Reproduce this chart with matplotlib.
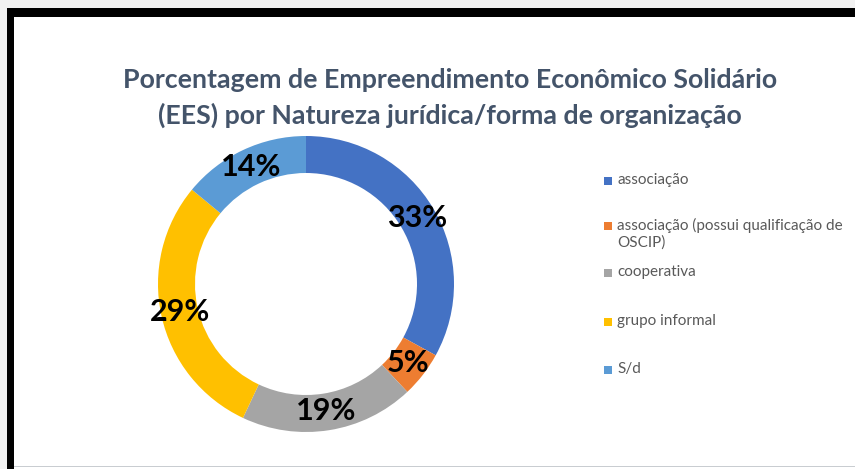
import matplotlib.pyplot as plt
from matplotlib.patches import Rectangle

# data
categories = ['associação', 'associação (possui qualificação de\nOSCIP)',
              'cooperativa', 'grupo informal', 'S/d']
values = [33, 5, 19, 29, 14]
colors = ['#4472C4', '#ED7D31', '#A5A5A5', '#FFC000', '#5B9BD5']

W, H = 855, 469
fig = plt.figure(figsize=(W / 100, H / 100), dpi=100, facecolor='#f1f1f1')

# white chart area with black frame (screenshot look)
fig.patches.append(Rectangle((14 / W, 0), 1, 1 - 17 / H, transform=fig.transFigure,
                             facecolor='white', edgecolor='none', zorder=0))
fig.patches.append(Rectangle((7 / W, 1 - 17 / H), 1, 9 / H, transform=fig.transFigure,
                             facecolor='black', edgecolor='none', zorder=1))
fig.patches.append(Rectangle((7 / W, 0), 7 / W, 1 - 8 / H, transform=fig.transFigure,
                             facecolor='black', edgecolor='none', zorder=1))
fig.patches.append(Rectangle((14 / W, 2 / H), 1, 1.5 / H, transform=fig.transFigure,
                             facecolor='#c9cdd1', edgecolor='none', zorder=1))

# title
fig.text(450 / W, 1 - 80 / H, 'Porcentagem de Empreendimento Econômico Solidário',
         ha='center', va='center', fontsize=19.3, fontweight='bold',
         family='Lato', color='#44546A')
fig.text(450 / W, 1 - 115 / H, '(EES) por Natureza jurídica/forma de organização',
         ha='center', va='center', fontsize=19.3, fontweight='bold',
         family='Lato', color='#44546A')

# donut
cx, cy, r = 306, 284, 148
ax = fig.add_axes([(cx - r) / W, (H - cy - r) / H, 2 * r / W, 2 * r / H])
ax.set_zorder(5)
ax.patch.set_alpha(0)
wedges, texts, autotexts = ax.pie(
    values, colors=colors, startangle=90, counterclock=False,
    autopct='%1.0f%%', pctdistance=0.87,
    wedgeprops=dict(width=0.25, edgecolor='none'),
    textprops=dict(fontsize=22, fontweight='bold', family='Lato', color='black'))
ax.set_xlim(-1, 1)
ax.set_ylim(-1, 1)
ax.axis('off')

# legend
legend_y = [181, 226, 273, 322, 370]
for lab, col, y in zip(categories, colors, legend_y):
    fig.patches.append(Rectangle((604 / W, 1 - (y + 4) / H), 8 / W, 8 / H,
                                 transform=fig.transFigure, facecolor=col,
                                 edgecolor='none', zorder=2))
    fig.text(617 / W, 1 - (y - 8) / H, lab, fontsize=11, family='Lato',
             color='#595959', va='top', linespacing=1.2)

fig.savefig('out.png', dpi=100, facecolor=fig.get_facecolor())
